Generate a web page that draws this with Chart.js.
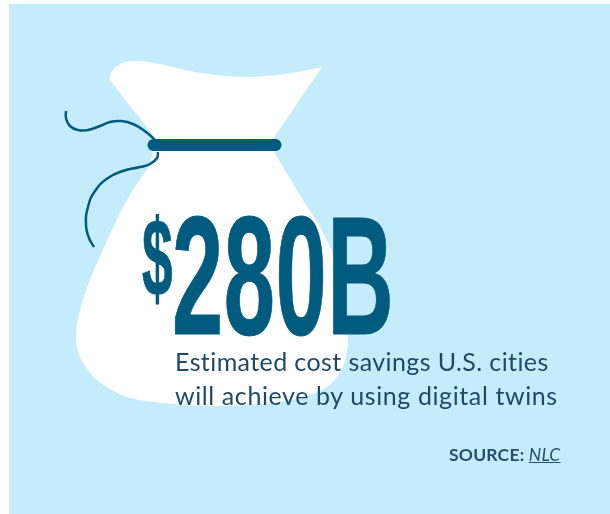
<!DOCTYPE html>
<html>
<head>
<meta charset="utf-8">
<script src="https://cdn.jsdelivr.net/npm/chart.js@4"></script>
<style>
  body { margin: 0; background: #fff; }
  #wrap { position: relative; width: 610px; height: 514px; overflow: hidden; }
  #panel { position: absolute; left: 9px; top: 4px; width: 601px; height: 510px; background: #c5ecfb; }
  canvas { position: absolute; left: 0; top: 0; }
  .txt { position: absolute; white-space: pre; transform-origin: 0 0; }
  #big, #dollar { font-family: "Liberation Sans", sans-serif; font-weight: 700; color: #005b7f; line-height: 1; }
  #big { left: 172px; top: 192px; font-size: 168px; letter-spacing: 1px; transform: scaleX(0.548); -webkit-text-stroke: 1px #005b7f; }
  #dollar { left: 142px; top: 203px; font-size: 110px; transform: scaleX(0.5); -webkit-text-stroke: 1px #005b7f; }
  .sub { left: 175px; font-family: Lato, sans-serif; font-size: 25px; color: #1d4a68; line-height: 30px; }
  #source { left: 449px; top: 445px; font-family: Lato, sans-serif; font-size: 17.5px; letter-spacing: 0.2px; font-weight: 700; color: #24506f; line-height: 20px; }
  #source a { font-weight: 400; font-style: italic; color: #24506f; text-decoration: underline; }
</style>
</head>
<body>
<div id="wrap">
  <div id="panel"></div>
  <canvas id="bag" width="610" height="514"></canvas>
  <div class="txt" id="dollar">$</div>
  <div class="txt" id="big">280B</div>
  <div class="txt sub" style="top:346px; letter-spacing:0.4px">Estimated cost savings U.S. cities</div>
  <div class="txt sub" style="top:380px; letter-spacing:0.6px">will achieve by using digital twins</div>
  <div class="txt" id="source">SOURCE: <a>NLC</a></div>
</div>
<script>
// Contorno de la bolsa (esquinas repetidas para que queden en punta)
const bagX = [109, 109, 113, 122, 137, 160, 190, 217, 243, 277, 303, 322, 322, 273, 273, 274, 274, 303, 320, 335, 343, 348, 343, 327, 300, 260, 220, 173, 127, 97, 80, 76, 83, 97, 127, 150, 150, 156, 156, 109];
const bagY = [79, 79, 70, 63, 61, 64, 71, 75, 77, 75, 71, 67, 67, 139, 139, 152, 152, 200, 227, 260, 300, 340, 367, 387, 398, 404, 406, 404, 397, 380, 357, 333, 300, 263, 200, 165, 165, 139, 139, 79];

// Cuerda
const stringTopX = [66, 66, 70, 78, 88, 100, 110, 120, 133, 146, 156];
const stringTopY = [111, 118, 126, 130, 130, 126, 122, 121, 124, 132, 141];
const stringLowX = [158, 157, 150, 140, 123, 108, 95, 88, 86, 89, 94];
const stringLowY = [152, 158, 164, 167, 171, 178, 191, 207, 225, 238, 247];

// Nudo de la bolsa
const tieX = [153.5, 275.5];
const tieY = [145, 145];

function points(xs, ys) {
  return xs.map((x, i) => ({ x: x, y: ys[i] }));
}

new Chart(document.getElementById('bag').getContext('2d'), {
  type: 'scatter',
  data: {
    datasets: [
      {
        data: points(bagX, bagY),
        showLine: true,
        borderWidth: 0,
        borderColor: '#ffffff',
        backgroundColor: '#ffffff',
        fill: 'shape',
        tension: 0.3,
        pointRadius: 0,
        order: 3,
      },
      {
        data: points(stringTopX, stringTopY),
        showLine: true,
        borderWidth: 2.5,
        borderColor: '#005b7f',
        tension: 0.5,
        pointRadius: 0,
        order: 2,
      },
      {
        data: points(stringLowX, stringLowY),
        showLine: true,
        borderWidth: 2.5,
        borderColor: '#005b7f',
        tension: 0.5,
        pointRadius: 0,
        order: 2,
      },
      {
        data: points(tieX, tieY),
        showLine: true,
        borderWidth: 12,
        borderColor: '#005b7f',
        borderCapStyle: 'round',
        pointRadius: 0,
        order: 1,
      },
    ],
  },
  options: {
    responsive: false,
    animation: false,
    layout: { padding: 0 },
    plugins: {
      legend: { display: false },
      tooltip: { enabled: false },
    },
    scales: {
      x: { type: 'linear', min: 0, max: 610, display: false },
      y: { type: 'linear', min: 0, max: 514, reverse: true, display: false },
    },
  },
});
</script>
</body>
</html>
